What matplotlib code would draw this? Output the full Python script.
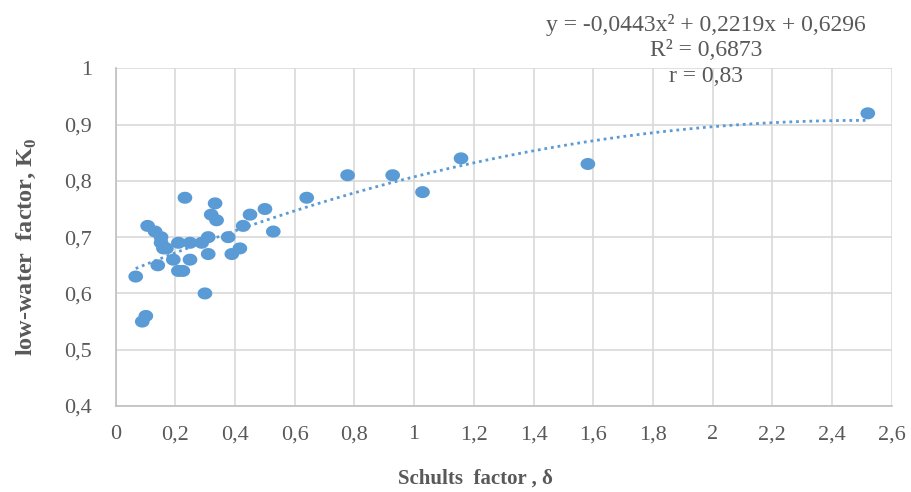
import numpy as np
import matplotlib
matplotlib.use("Agg")
import matplotlib.pyplot as plt
from matplotlib.ticker import FuncFormatter, MultipleLocator
from matplotlib.path import Path

plt.rcParams['font.family'] = ['Liberation Serif', 'DejaVu Serif']
plt.rcParams['mathtext.fontset'] = 'custom'
plt.rcParams['mathtext.rm'] = 'Liberation Serif'
plt.rcParams['mathtext.bf'] = 'Liberation Serif:bold'

# data
schults = [0.067, 0.089, 0.101, 0.107, 0.132, 0.141, 0.152, 0.152, 0.160, 0.170,
           0.193, 0.210, 0.210, 0.225, 0.232, 0.249, 0.249, 0.288, 0.299, 0.310,
           0.310, 0.320, 0.333, 0.338, 0.377, 0.389, 0.416, 0.427, 0.450, 0.500,
           0.528, 0.640, 0.777, 0.928, 1.028, 1.157, 1.582, 2.520]
k0 = [0.63, 0.55, 0.56, 0.72, 0.71, 0.65, 0.70, 0.69, 0.68, 0.68,
      0.66, 0.69, 0.64, 0.64, 0.77, 0.69, 0.66, 0.69, 0.60, 0.70,
      0.67, 0.74, 0.76, 0.73, 0.70, 0.67, 0.68, 0.72, 0.74, 0.75,
      0.71, 0.77, 0.81, 0.81, 0.78, 0.84, 0.83, 0.92]
trend_coef = [-0.0443, 0.2219, 0.6296]
eq_lines = ["y = -0,0443x² + 0,2219x + 0,6296", "R² = 0,6873", "r = 0,83"]

W, H = 912, 492
fig = plt.figure(figsize=(W / 100, H / 100), dpi=100)
L, R, T, B = 115.7, 891.7, 68.3, 406.0
ax = fig.add_axes([L / W, 1 - B / H, (R - L) / W, (B - T) / H])

blue = '#5B9BD5'
grey = '#595959'

# trendline
xs = np.linspace(min(schults), max(schults), 300)
ax.plot(xs, np.polyval(trend_coef, xs), color=blue, lw=2.0,
        linestyle=(0, (1, 1.4)), zorder=2)

# elliptical marker
t = np.linspace(0, 2 * np.pi, 41)
ell = Path(np.column_stack([np.cos(t), 0.82 * np.sin(t)]), closed=True)
ax.scatter(schults, k0, s=112, marker=ell, color=blue, edgecolors='none', zorder=3)

ax.set_xlim(0, 2.6)
ax.set_ylim(0.4, 1.0)
ax.xaxis.set_major_locator(MultipleLocator(0.2))
ax.yaxis.set_major_locator(MultipleLocator(0.1))

def fmt(v, pos):
    s = f"{v:.1f}"
    if s.endswith('.0'):
        s = s[:-2]
    return s.replace('.', ',')

ax.xaxis.set_major_formatter(FuncFormatter(fmt))
ax.yaxis.set_major_formatter(FuncFormatter(fmt))
ax.grid(True, color='#D9D9D9', lw=1.2, zorder=0)
ax.set_axisbelow(True)
for s in ['top', 'right']:
    ax.spines[s].set_visible(False)
for s in ['left', 'bottom']:
    ax.spines[s].set_color('#BFBFBF')
    ax.spines[s].set_linewidth(1.2)
ax.tick_params(length=0, labelsize=16, labelcolor=grey)
ax.tick_params(axis='x', pad=14)
ax.tick_params(axis='y', pad=17)

fig.text(475 / W, 1 - 479 / H, "Schults  factor , δ", ha='center', va='center',
         fontsize=15, fontweight='bold', color=grey)
fig.text(26 / W, 1 - 247 / H, r"low-water  factor, K$_\mathbf{0}$", ha='center',
         va='center', rotation=90, fontsize=17.5, fontweight='bold', color=grey)

for txt, yc in zip(eq_lines, [25, 50, 77]):
    fig.text(706 / W, 1 - yc / H, txt, ha='center', va='center', fontsize=17,
             color=grey)

fig.savefig("out.png", dpi=100)
